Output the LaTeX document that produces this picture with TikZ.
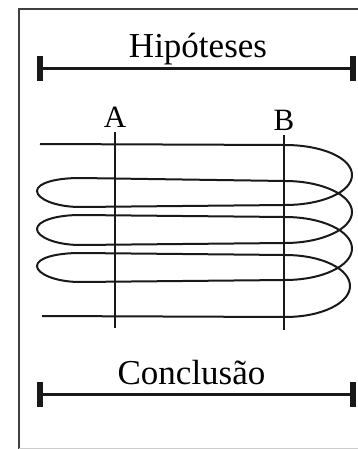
\documentclass[tikz,border=0pt]{standalone}
\usepackage{fontspec}
\setmainfont{Liberation Serif}
\begin{document}
\begin{tikzpicture}[x=1pt,y=-1pt,
  wire/.style={line width=2pt, black!90, line join=round},
  bar/.style={line width=3pt, black!90},
  tickbox/.style={fill=black!90},
  frameline/.style={line width=2pt, black!75},
  lbl/.style={font=\fontsize{35}{35}\selectfont, anchor=base, inner sep=0pt},
  ptlbl/.style={font=\fontsize{31}{31}\selectfont, anchor=base, inner sep=0pt}]
\useasboundingbox (0,0) rectangle (358,449);
% frame
\draw[frameline] (19,449) -- (19,9) -- (358,9);
\draw[black!20, line width=1pt] (19,448) -- (358,448);
% hypotheses bar
\coordinate (h1) at (40,69);
\coordinate (h2) at (353,69);
\draw[bar] (h1) -- (h2);
\fill[tickbox] (37,56) rectangle (43,81);
\fill[tickbox] (350,56) rectangle (356,81);
\node[lbl] (hyp) at (198,58) {Hipóteses};
% conclusion bar
\coordinate (c1) at (40,394);
\coordinate (c2) at (353,394);
\draw[bar] (c1) -- (c2);
\fill[tickbox] (37,382) rectangle (43,407);
\fill[tickbox] (350,382) rectangle (356,407);
\node[lbl] (conc) at (191.5,384) {Conclusão};
% A and B
\node[ptlbl] (A) at (115,128) {A};
\node[ptlbl] (B) at (284,131) {B};
\coordinate (a1) at (115,132);
\coordinate (a2) at (115,328);
\coordinate (b1) at (284,135);
\coordinate (b2) at (284,330);
\draw[wire] (a1) -- (a2);
\draw[wire] (b1) -- (b2);
% coil
\draw[wire]
 (40,144) -- (285,145)
 .. controls (322,145) and (352,158) .. (352,175)
 .. controls (352,192) and (322,205) .. (285,205)
 -- (80,207)
 .. controls (56,207) and (37,199) .. (37,191)
 .. controls (37,183) and (56,178) .. (80,178)
 -- (285,181)
 .. controls (322,181) and (352,195) .. (352,212)
 .. controls (352,229) and (322,243) .. (285,243)
 -- (80,245)
 .. controls (56,245) and (37,237) .. (37,229)
 .. controls (37,221) and (56,215) .. (80,215)
 -- (285,217)
 .. controls (322,217) and (352,231) .. (352,248.5)
 .. controls (352,266) and (322,280) .. (285,280)
 -- (80,282)
 .. controls (56,282) and (37,274) .. (37,266)
 .. controls (37,258) and (56,253) .. (80,253)
 -- (285,255)
 .. controls (322,255) and (350,269) .. (350,286)
 .. controls (350,303) and (322,317) .. (285,317)
 -- (42,316);
\end{tikzpicture}
\end{document}
